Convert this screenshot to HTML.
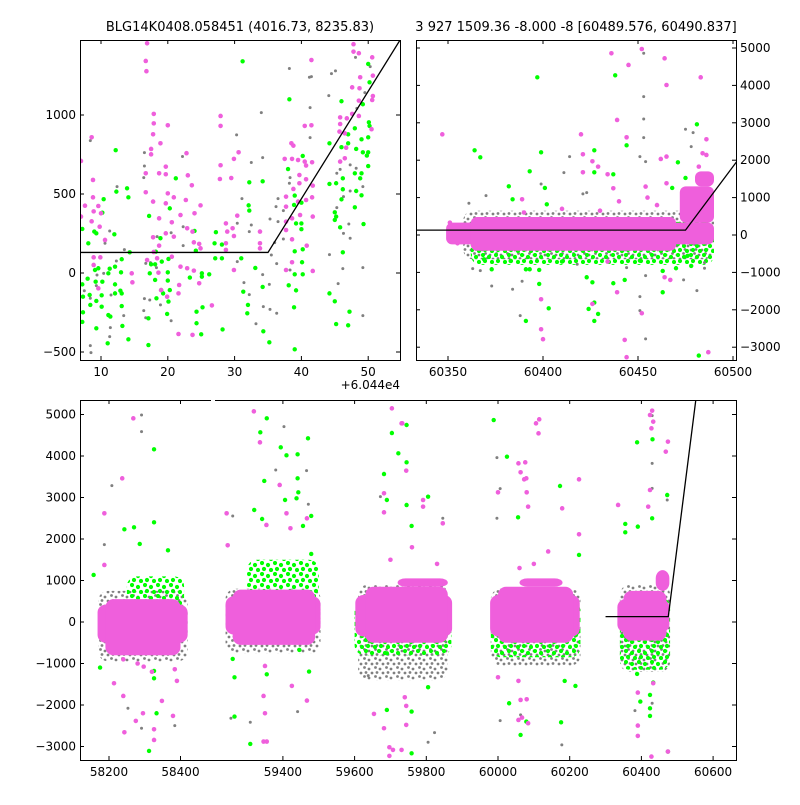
<!DOCTYPE html>
<html><head><meta charset="utf-8"><style>
body{margin:0;background:#fff;width:800px;height:800px;overflow:hidden}
svg text{font-family:"DejaVu Sans","Liberation Sans",sans-serif;fill:#000}
</style></head><body>
<svg id="fig" width="800" height="800" viewBox="0 0 800 800" xmlns="http://www.w3.org/2000/svg">
<defs>
<pattern id="pGreen" width="13" height="11" patternUnits="userSpaceOnUse"><circle cx="2" cy="2" r="2.1" fill="#00ff00"/><circle cx="8" cy="4" r="2.1" fill="#00ff00"/><circle cx="4" cy="8" r="2.1" fill="#00ff00"/><circle cx="11" cy="9" r="2.1" fill="#00ff00"/></pattern>
<pattern id="pGray" width="11" height="9" patternUnits="userSpaceOnUse"><circle cx="1.5" cy="1.5" r="1.4" fill="#808080"/><circle cx="6" cy="3" r="1.4" fill="#808080"/><circle cx="3" cy="6.5" r="1.4" fill="#808080"/><circle cx="9" cy="7" r="1.4" fill="#808080"/></pattern>
<clipPath id="cTL"><rect x="80" y="40" width="320" height="320"/></clipPath>
<clipPath id="cTR"><rect x="416" y="40" width="320" height="320"/></clipPath>
<clipPath id="cB"><rect x="80" y="400" width="656" height="360"/></clipPath>
</defs>
<text x="240" y="31" font-size="13" text-anchor="middle">BLG14K0408.058451 (4016.73, 8235.83)</text>
<text x="576" y="31" font-size="13" text-anchor="middle">3 927 1509.36 -8.000 -8 [60489.576, 60490.837]</text>
<text x="400" y="389" font-size="12" text-anchor="end">+6.044e4</text>
<g id="gTL" clip-path="url(#cTL)"></g>
<g id="gTR" clip-path="url(#cTR)"></g>
<g id="gB" clip-path="url(#cB)"></g>
<g id="axes"></g>
</svg>
<script>
// ---- model line ----
const modelT0 = 60475, modelBase = 130, modelSlope = 68;
// ---- tick arrays ----
const tlXTicks = [10,20,30,40,50];
const tlYTicks = [-500,0,500,1000];
const trXTicks = [60350,60400,60450,60500];
const trYTicks = [-3000,-2000,-1000,0,1000,2000,3000,4000,5000];
const bXTicks1 = [58200,58400];
const bXTicks2 = [59400,59600,59800,60000,60200,60400,60600];
const bYTicks = [-3000,-2000,-1000,0,1000,2000,3000,4000,5000];
// ---- top-left panel data (day - 60440, flux) ----
const tlPink = [[16.9,1454],[16.7,1342],[16.8,1277],[17.9,1007],[17.9,947],[17.8,878],[17.5,785],[17.5,751],[18.9,821],[20,935],[8.6,859],[27.9,994],[27.9,931],[30.6,764],[29.9,722],[27.9,682],[27.8,595],[29.5,601],[22.8,758],[23,618],[23.6,555],[19.7,673],[19.7,625],[18.7,631],[16.7,631],[16.7,511],[8.8,589],[8.8,479],[7.6,426],[9.6,424],[8.9,390],[10,378],[9.8,293],[8.6,327],[7,357],[7,709],[17.8,452],[20,504],[20.9,479],[19.7,441],[21.9,367],[22.7,462],[24.9,428],[24,378],[20.6,321],[18.7,346],[17.8,226],[18.7,173],[19.7,251],[20.9,230],[22.9,283],[23.7,262],[23.9,194],[24.7,184],[24.9,156],[28.7,314],[28.9,262],[29.7,283],[29.9,234],[30.4,363],[28.7,188],[28.7,146],[10.6,209],[8.9,99],[8.9,51],[9.9,99],[9.6,-97],[14.6,-2],[14.7,-59],[17.9,133],[16.9,82],[18.6,2],[19,-108],[19.9,-150],[21.7,-76],[21.6,-129],[21.9,40],[22.9,30],[23.9,15],[24.7,-65],[26.6,-205],[21.6,-386],[23.7,-392],[29.9,19],[18.4,93],[20.6,103],
[47.8,1448],[47.8,1401],[48.6,1391],[50.6,1365],[41.5,1348],[50.7,1249],[48.8,1239],[47.6,1175],[48.7,1169],[50.7,1120],[50.6,1095],[48.6,1091],[47.6,1007],[48.6,994],[45.8,985],[46.8,979],[45.8,943],[50.5,910],[45.7,895],[46.5,884],[41.5,935],[40.5,931],[38.5,821],[38.8,806],[46.7,793],[37.5,722],[38.6,722],[39.5,715],[40.5,705],[41.6,701],[40.7,680],[45.8,705],[46.5,726],[39.7,620],[39.7,568],[40.7,593],[41.7,553],[38.8,532],[41.6,479],[40.7,462],[37.7,483],[39.5,452],[37.7,420],[38.6,346],[37.7,325],[39.8,367],[41.7,357],[37.7,272],[38.6,213],[40.8,173],[33.8,262],[33.8,188],[33.8,156],[38.6,68],[37.7,19],[41.7,13]];
const tlGreen = [[12.2,777],[10.4,467],[10.2,382],[13.9,536],[14.1,479],[12.3,515],[21.2,599],[17.2,361],[20.3,409],[7.2,279],[9,262],[9.3,251],[8.1,188],[12,245],[14.3,131],[18.2,135],[18.9,220],[24,266],[27.2,258],[27,188],[28.1,180],[24.2,141],[27.1,93],[28.1,93],[13.1,87],[12.1,40],[11.3,27],[9.6,30],[9.1,19],[11.1,-2],[13,4],[9.2,-55],[10.2,-55],[8,-36],[7.2,-72],[12.1,-72],[7.3,-150],[8.3,-139],[9.3,-177],[10.1,-141],[12.1,-129],[12.9,-112],[13.1,-129],[13.1,-209],[10.1,-213],[8.4,-202],[7.3,-249],[7.2,-310],[11.1,-266],[11.4,-276],[9.3,-350],[13.2,-335],[14.1,-420],[11,-445],[17.1,-456],[17.5,55],[17.3,-2],[18.1,55],[18.1,-44],[19.1,72],[20.1,89],[20,4],[20,-48],[19,-108],[19.3,-129],[18.3,-160],[20.3,-108],[20.1,-181],[19.9,-259],[17.1,-287],[25.1,-2],[25.1,-23],[26.2,-8],[23.3,-29],[25.2,-217],[24.3,-245],[24.3,-318],[25,-388],[28.2,-357],
[31.2,1340],[38.2,1099],[46,1087],[50,1323],[50.2,1207],[49.2,1068],[50.1,954],[50.2,931],[48,916],[47,878],[49,846],[50,859],[44.2,821],[46,796],[47,821],[48.2,785],[49.2,764],[50,764],[49.8,743],[50,677],[40.2,741],[38,658],[48,631],[49,631],[44.2,564],[45.2,568],[46.2,599],[46.2,530],[48.8,599],[48.2,519],[49,492],[48,416],[49.3,310],[46,466],[45,384],[45.2,357],[45,336],[45.8,289],[46.2,131],[32.2,574],[34.2,580],[32.1,428],[32.2,395],[39,490],[40,445],[38.9,431],[39.2,314],[40,314],[40,277],[39,137],[40.2,150],[40.1,68],[39,-8],[40.2,-8],[38.1,-78],[39.2,-110],[38.9,-217],[34.2,-88],[33.1,32],[31.3,-118],[32,-202],[31.9,-255],[34.3,-369],[35.2,-439],[39,-483],[44.2,-129],[45,-179],[45.2,-323],[47,-331],[47.2,-245],[31,93]];
const tlGray = [[8.4,838],[12.4,547],[16.5,762],[16.5,677],[16.4,604],[22.2,737],[30.3,874],[30.4,315],[30.4,72],[11.3,266],[10.6,188],[13.5,148],[22.3,293],[20.5,255],[18.4,230],[22.3,173],[12.3,76],[9.4,-13],[10.4,-2],[9.3,-80],[7.5,-112],[8.4,-160],[11.5,-139],[13.4,-270],[11.4,-346],[11.3,-403],[8.4,-460],[8.5,-504],[16.5,-162],[16.4,-238],[16.7,-283],[17.3,-171],[20.5,-302],[18.9,-202],[17.4,66],[16.7,61],[18.3,34],
[38.2,1294],[41.2,1239],[41.5,1243],[44.5,1262],[45.1,1279],[44.1,1123],[41.3,1047],[34,1015],[41.3,857],[48.1,1365],[50.3,1306],[49.5,1142],[48.3,1042],[45.8,656],[45.3,631],[47.3,684],[48.2,663],[49.2,547],[46.3,483],[45.3,414],[47.3,519],[47.1,310],[46.3,251],[47.3,220],[44.2,116],[46.2,28],[45.5,-67],[49.2,34],[49.2,-270],[32.5,699],[34.2,730],[31.1,471],[36.5,471],[36.2,420],[37.3,395],[35.3,342],[36.5,325],[32.5,304],[32.2,262],[37.3,215],[36,192],[35.5,114],[36.3,59],[34.2,-10],[31.4,-61],[35.2,-72],[32.2,-137],[34.3,-213],[35.3,-230],[33.2,-321],[36.3,-255],[38.3,19],[38.2,568],[38.3,604]];
// ---- top-right panel: dense bands [t1,t2,lo,hi] and outliers [t,flux] ----
const trPinkBands = [[60349,60490,-250,330],[60362,60470,-420,480],[60472,60490,330,1300],[60480,60490,1300,1700]];
const trGreenBands = [[60362,60490,-800,350]];
const trGrayBands = [[60358,60490,-650,650]];
const trPink = [[60347,2692],[60436,4858],[60452,4973],[60445,4546],[60464,4724],[60465,4011],[60483,4216],[60439,3076],[60444,2612],[60420,2692],[60421,2158],[60421,1677],[60426,1971],[60429,1828],[60434,1623],[60437,1249],[60454,1294],[60465,2096],[60462,2033],[60465,1383],[60486,2559],[60486,2140],[60484,2185],[60482,1828],[60389,955],[60399,-1718],[60399,-2520],[60400,-2787],[60426,-1843],[60452,-2092],[60443,-2805],[60444,-3268],[60487,-3134],[60464,-1130],[60467,-1201],[60439,-1531],[60434,-711],[60351,331],[60355,-221],[60440,900],[60455,1000],[60460,800],[60410,700],[60430,650],[60390,600]];
const trGreen = [[60397,4216],[60438,4270],[60364,2265],[60367,2078],[60399,2211],[60427,2265],[60444,2398],[60481,2960],[60471,1944],[60393,1704],[60427,1677],[60437,1623],[60382,1302],[60401,1258],[60384,955],[60402,821],[60475,1525],[60468,1258],[60373,-916],[60391,-916],[60393,-916],[60398,-934],[60398,-1308],[60403,-1959],[60391,-2297],[60424,-1977],[60427,-1807],[60429,-2110],[60427,-2297],[60423,-1130],[60426,-1264],[60437,-1290],[60443,-1201],[60463,-961],[60463,-1531],[60470,-889],[60478,-827],[60482,-3224],[60369,-649],[60383,-694],[60410,-711],[60451,-685],[60476,-560]];
const trGray = [[60453,4858],[60453,3699],[60453,3103],[60453,2603],[60475,2826],[60479,2737],[60478,2363],[60414,2096],[60411,1668],[60399,1365],[60370,1053],[60361,848],[60421,1098],[60423,1133],[60451,2096],[60454,1962],[60363,-898],[60367,-952],[60373,-1362],[60384,-1451],[60389,-1237],[60388,-2155],[60451,-1647],[60451,-2021],[60454,-2778],[60454,-1085],[60474,-1201],[60481,-1487],[60485,-738],[60485,-889],[60418,-783],[60444,-872]];
// ---- bottom panel: season bands and outliers ----
const bPinkBands = [[58168,58420,-500,420],[58190,58400,-800,550],[59240,59505,-300,620],[59260,59490,-550,780],[59602,59872,-350,650],[59630,59860,-500,850],[59720,59860,850,1050],[59978,60228,-350,650],[60000,60210,-500,850],[60060,60180,850,1050],[60333,60478,-250,550],[60350,60470,-450,750],[60440,60478,750,1250]];
const bGreenBands = [[58250,58410,300,1100],[59300,59500,500,1500],[59600,59870,-800,500],[59980,60230,-850,500],[60340,60480,-1150,600]];
const bGrayBands = [[58170,58420,-950,750],[59240,59505,-750,800],[59610,59860,-1400,900],[59980,60230,-1050,800],[60340,60480,-1200,900]];
const bPink = [[58268,4907],[58237,3462],[58187,2619],[58187,1374],[58240,-1782],[58243,-2657],[58275,-2384],[58295,-2199],[58326,-2585],[58326,-2842],[58379,-2263],[58390,-1420],[58214,-1476],[58348,-1902],[58297,-1075],[58384,-1139],[59319,5076],[59336,4329],[59243,2619],[59246,1848],[59391,3302],[59410,2619],[59354,2338],[59421,2258],[59467,2498],[59350,-1059],[59425,-1540],[59467,-1894],[59346,-1782],[59350,-2199],[59346,-2881],[59355,-2881],[59704,5148],[59733,4787],[59682,3101],[59682,2643],[59654,-2215],[59682,-2560],[59697,-3018],[59697,-3227],[59707,-3082],[59731,4787],[59744,3647],[59791,2940],[59791,2779],[59846,2378],[60106,4787],[60115,4883],[60113,4546],[60057,3823],[60063,3607],[60076,3847],[60073,3438],[60079,3462],[60000,3125],[60080,3125],[60084,2779],[60179,2739],[60226,3438],[60226,2113],[60000,-1332],[60057,-1420],[60063,-1878],[60080,-1862],[60057,-2360],[60084,-2440],[60067,-2303],[59744,-2480],[59744,-2022],[59740,-1814],[59731,-3082],[60335,2820],[60424,4988],[60430,5092],[60433,4827],[60428,4667],[60474,4345],[60468,4104],[60424,3181],[60419,2779],[60390,-1701],[60390,-2496],[60390,-2745],[60428,-3243],[60433,-1476],[60474,-3122],[60424,-377],[59700,1500],[59760,1800],[59830,1400],[60100,1400],[60140,1700],[60060,1300],[58280,-1000],[58320,-1200],[58240,-900]];
const bGreen = [[58326,4160],[58326,2402],[58243,2233],[58270,2282],[58286,1880],[58365,1727],[58157,1133],[58175,-1099],[58326,-1356],[58333,-2199],[58312,-3107],[58326,-1179],[59355,4907],[59337,4570],[59394,4209],[59410,4016],[59441,4040],[59470,4425],[59441,3462],[59443,3125],[59348,3398],[59406,2940],[59438,2980],[59320,2699],[59342,2482],[59479,2555],[59456,2314],[59479,1639],[59260,-890],[59265,-1332],[59265,-2279],[59309,-2938],[59355,-1260],[59473,-1195],[59446,-673],[59704,4554],[59722,4064],[59682,3566],[59690,2940],[59690,-754],[59690,-2119],[59745,4747],[59745,3847],[59745,2819],[59759,2314],[59805,3020],[59988,4867],[60025,3984],[60173,3277],[60226,1615],[60056,2523],[60388,4329],[60431,4401],[60472,3060],[60430,2498],[60355,2362],[60355,2161],[60390,2298],[60031,-1958],[60063,-2721],[60079,-2400],[60176,-2416],[60216,-1540],[60186,-1420],[59805,-1572],[59759,-2159],[59759,-3163],[60388,-1251],[60397,-1918],[60424,-1757],[60424,-2079],[60424,-2263],[60474,-3122],[60433,-1460]];
const bGray = [[58291,4988],[58291,4586],[58208,3286],[58187,1864],[59403,4707],[59380,3663],[59466,3647],[59471,2836],[59260,2555],[59672,3020],[58253,-2078],[58291,-2560],[58384,-2496],[59255,-2319],[59309,-2416],[59441,-2159],[59638,-1292],[59997,3960],[60006,3213],[59997,2499],[59846,2499],[60430,4972],[60430,3823],[60430,3221],[60472,2940],[60178,-2962],[60006,-2376],[60063,-2239],[59823,-2665],[59805,-2897],[60430,-1958],[60382,-2135]];

// ---- axis functions ----
const tlX = d => 101 + (d - 10) * 6.68;
const tlY = f => 273 - f * 0.158;
const trX = t => 448 + (t - 60350) * 1.9;
const trY = f => 235 - f * 0.0374;
const bX = t => t < 58800 ? 109 + (t - 58200) * 0.3575 : 498 + (t - 60000) * 0.3585;
const bY = f => 622 - f * 0.0415;
const model = t => modelBase + modelSlope * Math.max(0, t - modelT0);

const NS = 'http://www.w3.org/2000/svg';
function mk(tag, attrs, parent) {
  const e = document.createElementNS(NS, tag);
  for (const k in attrs) e.setAttribute(k, attrs[k]);
  parent.appendChild(e);
  return e;
}
function bands(g, arr, X, Y, fill, name, rad) {
  arr.forEach(b => {
    const x1 = X(b[0]), x2 = X(b[1]), y1 = Y(b[3]), y2 = Y(b[2]);
    const r = mk('rect', {x: x1, y: y1, width: x2 - x1, height: y2 - y1, rx: rad, fill: fill}, g);
    
    
  });
}
function pts(g, arr, X, Y, color, rad, name) {
  arr.forEach(p => {
    const c = mk('circle', {cx: X(p[0]), cy: Y(p[1]), r: rad, fill: color}, g);
    
    
  });
}
const PINK = '#ef5fdc', GREEN = '#00ff00', GRAY = '#808080';

// top-left
const gTL = document.getElementById('gTL');
pts(gTL, tlGray, tlX, tlY, GRAY, 1.5, 'gray-point');
pts(gTL, tlGreen, tlX, tlY, GREEN, 2.2, 'green-point');
pts(gTL, tlPink, tlX, tlY, PINK, 2.3, 'pink-point');
{
  const ts = [0, modelT0 - 60440, 60];
  const l = mk('polyline', {points: ts.map(d => tlX(d) + ',' + tlY(model(d + 60440))).join(' '), fill: 'none', stroke: '#000', 'stroke-width': 1.3}, gTL);
  
  
}
// top-right
const gTR = document.getElementById('gTR');
bands(gTR, trGrayBands, trX, trY, 'url(#pGray)', 'gray-band', 10);
bands(gTR, trGreenBands, trX, trY, 'url(#pGreen)', 'green-band', 10);
pts(gTR, trGray, trX, trY, GRAY, 1.5, 'gray-point');
pts(gTR, trGreen, trX, trY, GREEN, 2.2, 'green-point');
bands(gTR, trPinkBands, trX, trY, PINK, 'pink-band', 6);
pts(gTR, trPink, trX, trY, PINK, 2.3, 'pink-point');
{
  const ts = [60300, modelT0, 60600];
  const l = mk('polyline', {points: ts.map(t => trX(t) + ',' + trY(model(t))).join(' '), fill: 'none', stroke: '#000', 'stroke-width': 1.3}, gTR);
  
  
}
// bottom
const gB = document.getElementById('gB');
bands(gB, bGrayBands, bX, bY, 'url(#pGray)', 'gray-band', 10);
bands(gB, bGreenBands, bX, bY, 'url(#pGreen)', 'green-band', 10);
pts(gB, bGray, bX, bY, GRAY, 1.5, 'gray-point');
pts(gB, bGreen, bX, bY, GREEN, 2.2, 'green-point');
bands(gB, bPinkBands, bX, bY, PINK, 'pink-band', 8);
pts(gB, bPink, bX, bY, PINK, 2.3, 'pink-point');
{
  const ts = [60300, modelT0, 60600];
  const l = mk('polyline', {points: ts.map(t => bX(t) + ',' + bY(model(t))).join(' '), fill: 'none', stroke: '#000', 'stroke-width': 1.3}, gB);
  
  
}

// ---- axes ----
const ax = document.getElementById('axes');
function line(x1, y1, x2, y2, name) {
  const l = mk('line', {x1: x1, y1: y1, x2: x2, y2: y2, stroke: '#000', 'stroke-width': 1}, ax);
  
  
}
function label(x, y, s, anchor, name) {
  const t = mk('text', {x: x, y: y, 'font-size': 12, 'text-anchor': anchor}, ax);
  t.textContent = s;
  
  
}
function frame(x0, y0, w, h) {
  const r = mk('rect', {x: x0 + 0.5, y: y0 + 0.5, width: w, height: h, fill: 'none', stroke: '#000', 'stroke-width': 1}, ax);
  
  
}
// TL
frame(80, 40, 320, 320);
tlXTicks.forEach(v => { const x = tlX(v); line(x, 360, x, 356, 'x-tick'); line(x, 40, x, 44, 'x-tick'); label(x, 376, String(v), 'middle', 'x-tick-label'); });
tlYTicks.forEach(v => { const y = tlY(v); line(80, y, 84, y, 'y-tick'); line(400, y, 396, y, 'y-tick'); label(76, y + 4, String(v).replace('-', '\u2212'), 'end', 'y-tick-label'); });
// TR
frame(416, 40, 320, 320);
trXTicks.forEach(v => { const x = trX(v); line(x, 360, x, 356, 'x-tick'); line(x, 40, x, 44, 'x-tick'); label(x, 376, String(v), 'middle', 'x-tick-label'); });
trYTicks.forEach(v => { const y = trY(v); line(416, y, 420, y, 'y-tick'); line(736, y, 732, y, 'y-tick'); label(740, y + 4, String(v).replace('-', '\u2212'), 'start', 'y-tick-label'); });
// Bottom
line(80.5, 400, 80.5, 760, 'left-spine');
line(736.5, 400, 736.5, 760, 'right-spine');
line(80, 760.5, 737, 760.5, 'bottom-spine');
line(80, 400.5, 211, 400.5, 'top-spine-left');
line(215, 400.5, 737, 400.5, 'top-spine-right');
bXTicks1.concat(bXTicks2).forEach(v => { const x = bX(v); line(x, 760, x, 756, 'x-tick'); line(x, 400, x, 404, 'x-tick'); label(x, 776, String(v), 'middle', 'x-tick-label'); });
bYTicks.forEach(v => { const y = bY(v); line(80, y, 84, y, 'y-tick'); line(736, y, 732, y, 'y-tick'); label(76, y + 4, String(v).replace('-', '\u2212'), 'end', 'y-tick-label'); });
</script>
</body></html>
